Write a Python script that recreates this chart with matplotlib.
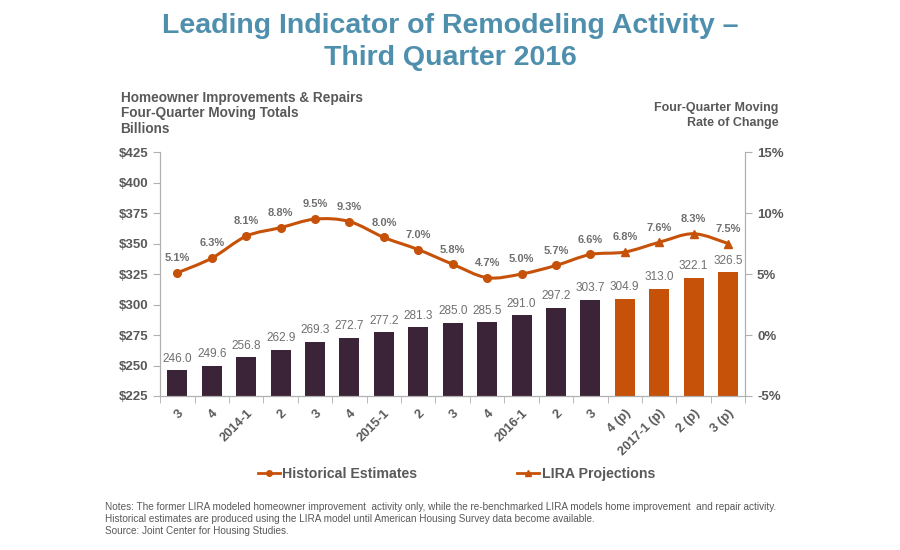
import numpy as np
import matplotlib.pyplot as plt
from matplotlib.path import Path
from matplotlib.patches import PathPatch
from matplotlib.lines import Line2D

# ─── Data ─────────────────────────────────────────────────────────────
quarters = ['3', '4', '2014-1', '2', '3', '4', '2015-1', '2', '3', '4',
            '2016-1', '2', '3', '4 (p)', '2017-1 (p)', '2 (p)', '3 (p)']
spending = [246.0, 249.6, 256.8, 262.9, 269.3, 272.7, 277.2, 281.3, 285.0,
            285.5, 291.0, 297.2, 303.7, 304.9, 313.0, 322.1, 326.5]
rate = [5.1, 6.3, 8.1, 8.8, 9.5, 9.3, 8.0, 7.0, 5.8, 4.7, 5.0, 5.7, 6.6,
        6.8, 7.6, 8.3, 7.5]
n_hist = 13  # first 13 quarters are historical, rest projected

PURPLE = '#3b2437'
ORANGE = '#c65109'
GRAY = '#595959'
LABEL = '#6f6f6f'
TITLE = '#4f8fae'
SPINE = '#b0b0b0'

plt.rcParams['font.family'] = ['Liberation Sans', 'DejaVu Sans']

fig = plt.figure(figsize=(9, 5.5), dpi=100)
ax = fig.add_axes([0.178, 0.28, 0.65, 0.4436])
ax2 = ax.twinx()

x = np.arange(len(quarters))
colors = [PURPLE] * n_hist + [ORANGE] * (len(quarters) - n_hist)
bars = ax.bar(x, spending, width=0.58, color=colors, zorder=2)
for xi, v in zip(x, spending):
    ax.annotate(f'{v:.1f}', (xi, v), xytext=(0, 4), textcoords='offset points',
                ha='center', va='bottom', fontsize=8.5, color=LABEL)

ax.set_xlim(-0.5, len(quarters) - 0.5)
ax.set_ylim(225, 425)
ax.set_yticks(np.arange(225, 426, 25))
ax.set_yticklabels([f'${v}' for v in range(225, 426, 25)])
ax.set_xticks(x)
ax.set_xticklabels(quarters, rotation=45, ha='right', rotation_mode='anchor')
ax.set_xticks(np.arange(-0.5, len(quarters), 1), minor=True)
ax.tick_params(axis='x', which='major', length=0, pad=8, labelsize=9.3,
               labelcolor=GRAY)
ax.tick_params(axis='x', which='minor', length=5, color=SPINE)
ax.tick_params(axis='y', length=5, color=SPINE, labelsize=9.5, labelcolor=GRAY)
for lab in ax.get_xticklabels() + ax.get_yticklabels():
    lab.set_fontweight('bold')

# ─── Smoothed rate line (Catmull-Rom as Bezier) ───────────────────────
ax2.set_ylim(-5, 15)
ax2.set_yticks([-5, 0, 5, 10, 15])
ax2.set_yticklabels(['-5%', '0%', '5%', '10%', '15%'])
ax2.tick_params(axis='y', length=5, color=SPINE, labelsize=9.5, labelcolor=GRAY)
for lab in ax2.get_yticklabels():
    lab.set_fontweight('bold')

pts = np.column_stack([x, rate]).astype(float)
verts = [tuple(pts[0])]
codes = [Path.MOVETO]
for i in range(len(pts) - 1):
    p0 = pts[i - 1] if i > 0 else pts[i]
    p1, p2 = pts[i], pts[i + 1]
    p3 = pts[i + 2] if i + 2 < len(pts) else pts[i + 1]
    c1 = p1 + (p2 - p0) / 6
    c2 = p2 - (p3 - p1) / 6
    verts += [tuple(c1), tuple(c2), tuple(p2)]
    codes += [Path.CURVE4] * 3
ax2.add_patch(PathPatch(Path(verts, codes), fill=False, edgecolor=ORANGE,
                        lw=2.2, zorder=3, capstyle='round'))
ax2.plot(x[:n_hist], rate[:n_hist], 'o', color=ORANGE, ms=5.5, zorder=4)
ax2.plot(x[n_hist:], rate[n_hist:], '^', color=ORANGE, ms=6, zorder=4)
for xi, v in zip(x, rate):
    ax2.annotate(f'{v:.1f}%', (xi, v), xytext=(0, 7), textcoords='offset points',
                 ha='center', va='bottom', fontsize=8, color=LABEL,
                 fontweight='bold')

for a in (ax, ax2):
    a.spines['top'].set_visible(False)
    for s in ('left', 'right', 'bottom'):
        a.spines[s].set_color(SPINE)

# ─── Text ─────────────────────────────────────────────────────────────
fig.text(0.5, 0.977, 'Leading Indicator of Remodeling Activity –\nThird Quarter 2016',
         ha='center', va='top', fontsize=20.5, fontweight='bold', color=TITLE,
         linespacing=1.33)
fig.text(0.134, 0.835, 'Homeowner Improvements & Repairs\nFour-Quarter Moving Totals\nBillions',
         ha='left', va='top', fontsize=9.8, fontweight='bold', color=GRAY,
         linespacing=1.15)
fig.text(0.865, 0.815, 'Four-Quarter Moving\nRate of Change', ha='right', va='top',
         fontsize=9, fontweight='bold', color=GRAY, linespacing=1.4)

handles = [Line2D([], [], color=ORANGE, lw=2, marker='o', ms=4),
           Line2D([], [], color=ORANGE, lw=2, marker='^', ms=4.5)]
fig.legend(handles, ['Historical Estimates', 'LIRA Projections'],
           loc='center', bbox_to_anchor=(0.507, 0.139), ncol=2, frameon=False,
           prop={'size': 10.2, 'weight': 'bold'}, labelcolor=GRAY,
           handlelength=1.6, handletextpad=0.15, columnspacing=7)

notes = ('Notes: The former LIRA modeled homeowner improvement  activity only, while the re-benchmarked LIRA models home improvement  and repair activity.\n'
         'Historical estimates are produced using the LIRA model until American Housing Survey data become available.\n'
         'Source: Joint Center for Housing Studies.')
fig.text(0.117, 0.087, notes, ha='left', va='top', fontsize=7.2, color=GRAY,
         family=['Liberation Sans Narrow', 'Liberation Sans'], linespacing=1.25)

fig.savefig('out.png', dpi=100)
